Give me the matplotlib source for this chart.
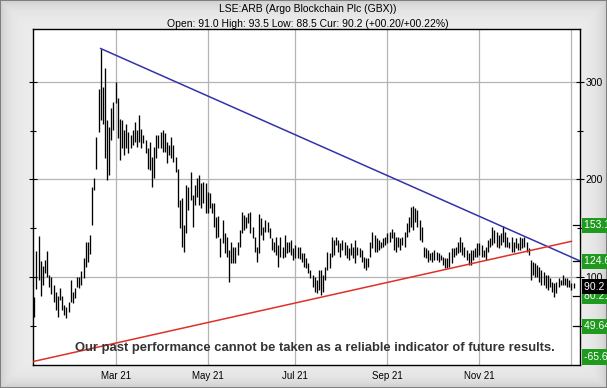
import numpy as np
import pandas as pd
import matplotlib
matplotlib.use("Agg")
import matplotlib.pyplot as plt
import matplotlib.transforms as mtransforms

plt.rcParams['font.family'] = ['Liberation Sans', 'DejaVu Sans']

# ---------------- data ----------------
title = "LSE:ARB (Argo Blockchain Plc (GBX))"
subtitle = "Open: 91.0 High: 93.5 Low: 88.5 Cur: 90.2 (+00.20/+00.22%)"
disclaimer = "Our past performance cannot be taken as a reliable indicator of future results."

start_date = "2021-01-06"
uk_holidays = ["2021-04-02", "2021-04-05", "2021-05-03", "2021-05-31",
               "2021-08-30", "2021-12-27", "2021-12-28", "2022-01-03"]

highs = [
    # Jan-Feb 2021
    79.7, 126.8, 141.9, 116.6, 111.2, 117, 127, 102, 99.6, 91.7, 85, 80, 88.6, 80, 71, 69.5,
    74.6, 96.8, 85, 88.6, 100, 99.6, 106.4, 119, 136, 136, 143, 192.4, 201, 243.6, 293, 334,
    295, 313.7, 260.8, 254, 272.7, 279.5,
    # Mar-Apr
    300, 283, 262, 260.6, 250.5, 257, 248.8, 245, 250.5, 259, 250.5, 265.9, 252, 245, 240,
    231.7, 238.5, 223, 233.4, 245, 245, 248.8, 250.5, 247, 238.5, 235, 243.6, 235, 223, 211,
    178.8, 180.5, 153, 194, 192.4, 207.8, 184, 194, 201, 204.4, 195.9, 197.5, 195.9,
    # May-Jun
    187.3, 185.6, 175.4, 175.4, 161.7, 162.4, 139.5, 158.3, 144.7, 141.2, 127.6, 136, 131,
    131, 136, 148, 166.8, 163.4, 161.7, 165.2, 166.8, 151.4, 141.2, 131, 164.4, 160, 151.4,
    158.3, 156.6, 149.8, 139.5, 136, 141.2, 132.7, 141.2, 131, 143, 136, 136, 137.8, 129.3,
    # Jul-Aug
    132.7, 131, 131, 124.8, 124.2, 119, 114.5, 107, 101.9, 100.2, 96.8, 107, 107, 101.9,
    110.4, 125.8, 124.2, 141.2, 137.8, 141.2, 137.8, 134.4, 137.8, 136, 132.7, 129.3, 134.4,
    131, 137.8, 131, 129.3, 127.6, 120.7, 119, 119, 136, 146.3, 143, 139.5, 137.8, 136,
    139.5, 141.2,
    # Sep-Oct
    144.7, 146.3, 148.8, 146.3, 141.2, 141.2, 139.5, 141.2, 146.3, 154.9, 161.7, 172, 172.6,
    170.3, 168.5, 158.3, 151.4, 131, 129.3, 127.6, 124.2, 125.8, 127.6, 125.8, 124.2, 122.4,
    120.7, 119, 119, 125.8, 129.3, 129.3, 131, 136, 141.2, 136, 131, 127.6, 124.2, 127.6,
    127.6, 129.3, 134.4,
    # Nov-Dec
    134.4, 132.7, 127.6, 131, 137.8, 139.5, 151.4, 148, 146.3, 143, 144.7, 152.2, 146.3,
    141.2, 136, 141.2, 136, 139.5, 134.4, 141.2, 139.5, 141.2, 136, 129.3, 117.3, 115.6, 114,
    112.2, 110.4, 107, 105.3, 101.9, 101.9, 98.6, 95, 93.4, 95, 98.6, 96.8, 101.9, 98.6,
    98.6, 96.8,
    # Jan 2022
    93.4, 93.5,
]

lows = [
    # Jan-Feb 2021
    58.6, 87.3, 96.8, 80.4, 91.7, 104, 99.6, 90, 83, 74.6, 66, 59, 76, 66, 61, 57.6,
    64, 74.6, 73, 78, 90, 88.6, 91.7, 98.5, 110.5, 115.6, 124, 153, 189, 211, 249, 260.8,
    257, 221.5, 199, 204, 240, 250.5,
    # Mar-Apr
    277.8, 242, 220, 231.7, 225, 231.7, 226.6, 231.7, 235, 238.5, 233.4, 238.5, 231.7, 236.9,
    226.6, 211, 209.5, 192.4, 201, 221.5, 231.7, 231.7, 228.4, 228.4, 216.4, 224.9, 221.5,
    218, 207.8, 172, 149.8, 131, 125.8, 144.7, 168.5, 178.8, 151.4, 173.7, 182, 173.7, 170.3,
    175.4, 165.2,
    # May-Jun
    165.2, 170.3, 165.2, 151.4, 139.5, 141.2, 120.7, 134.4, 124.2, 120.7, 95, 113.9, 114,
    114.5, 122.4, 131, 144.7, 148, 149.8, 155, 144.7, 139.5, 125.8, 115.6, 124.8, 143, 137.8,
    146.3, 146.3, 139.5, 127.6, 125.8, 122.4, 110.4, 120.7, 119, 120.7, 124.2, 125.8, 122.4,
    117.3,
    # Jul-Aug
    119, 119, 118, 115.6, 110.4, 108.8, 104.3, 98.6, 90, 84.8, 83.2, 86.6, 81.5, 84.8, 96.8,
    107, 108.8, 120.7, 122.4, 132.7, 125.8, 120.7, 127.6, 122.4, 119, 117.3, 122.4, 119, 114,
    122.4, 120.7, 115.6, 108.8, 107, 110.4, 120.7, 129.3, 125.8, 125.8, 127.6, 129.3, 131,
    132.7,
    # Sep-Oct
    134.4, 136, 139.5, 127.6, 125.8, 131, 127.6, 132.7, 131, 141.2, 146.3, 151.4, 148, 156.6,
    151.4, 137.8, 136, 120.7, 119, 115.6, 117.3, 115.6, 117.3, 117.3, 115.6, 117.3, 112.2,
    108.8, 108.8, 110.4, 114, 120.7, 122.4, 124.2, 125.8, 122.4, 120.7, 117.3, 112.2, 112.2,
    117.3, 120.7, 120.7,
    # Nov-Dec
    122.4, 120.7, 120.7, 117.3, 125.8, 131, 132.7, 134.4, 131, 129.3, 132.7, 136, 131, 131,
    129.3, 125.8, 125.8, 129.3, 127.6, 127.6, 129.3, 131, 125.8, 122.4, 96.8, 101.9, 100.2,
    100.2, 95, 91.7, 91.7, 88.3, 86.6, 90, 84.8, 79.7, 83.2, 90, 91.7, 91.7, 91.7, 90, 90,
    # Jan 2022
    86.6, 88.5,
]

# trend lines
blue_end_value = 116.4      # falling resistance line, value at right edge
red_start_value = 13.2      # rising support line, value at left edge
red_end_value = 136.5
red_end_date = "2022-01-04"

# right-hand level markers
level_labels = ["153.1", "124.6", "80.21", "49.64", "-65.6"]
level_y = [153.1, 116.0, 80.21, 49.64, 18.0]
current_label = "90.2"
current_value = 90.2

y_major = [100, 200, 300]
y_minor = [50, 150, 250]
y_limits = (9.8, 353.7)

# ---------------- figure ----------------
W, H = 607, 388
fig = plt.figure(figsize=(W / 100, H / 100), dpi=100)

# bevelled gray background
bg = fig.add_axes([0, 0, 1, 1], zorder=-10)
yy, xx = np.mgrid[0:H, 0:W]
d = np.minimum.reduce([xx, W - 1 - xx, yy, H - 1 - yy]).astype(float)
g = 0.93 - 0.12 * np.exp(-d / 9.0)
g[d < 1] = 0.5
bg.imshow(np.dstack([g, g, g]), extent=[0, 1, 0, 1], aspect='auto', interpolation='bilinear')
bg.set_axis_off()

ax = fig.add_axes([32.5 / W, 1 - 365 / H, (580 - 32.5) / W, (365 - 29.3) / H])
ax.set_facecolor('white')

n = len(highs)
dates = pd.bdate_range(start_date, periods=n, freq='C', holidays=uk_holidays)
x = np.arange(n)

ax.vlines(x, lows, highs, color='black', lw=0.95, zorder=3)

ax.set_xlim(-0.85, n + 2)
ax.set_ylim(*y_limits)

# month ticks (every other month)
tick_pos, tick_lab = [], []
for i in range(1, n):
    if dates[i].month != dates[i - 1].month and dates[i].month % 2 == 1:
        tick_pos.append(i)
        tick_lab.append(dates[i].strftime('%b %y') if dates[i].month != 1 else '')
ax.set_xticks(tick_pos)
ax.set_xticklabels(tick_lab, fontsize=7)
ax.tick_params(axis='x', length=0, pad=4)

ax.set_yticks(y_major)
ax.set_yticks(y_minor, minor=True)
ax.set_yticklabels([str(v) for v in y_major], fontsize=7.5)
ax.tick_params(axis='y', which='both', left=True, right=True, labelleft=False,
               labelright=True, direction='inout', width=0.8, pad=1)
ax.tick_params(axis='y', which='major', length=6)
ax.tick_params(axis='y', which='minor', length=4)

ax.grid(True, which='major', color='#b4b4b4', lw=0.9, zorder=0)
ax.set_axisbelow(True)
for s in ax.spines.values():
    s.set_color('black')
    s.set_linewidth(1.0)

# trend lines
peak = int(np.argmax(highs))
x_right = ax.get_xlim()[1]
ax.plot([peak, x_right], [highs[peak], blue_end_value], color='#3333aa', lw=1.1, zorder=4)
x_left = ax.get_xlim()[0]
red_end_idx = int(np.searchsorted(dates, pd.Timestamp(red_end_date)))
ax.plot([x_left, red_end_idx], [red_start_value, red_end_value], color='#e0302a', lw=1.1, zorder=4)

# right level boxes
blend = mtransforms.blended_transform_factory(ax.transAxes, ax.transData)
for lab, yv in zip(level_labels, level_y):
    ax.annotate(lab + " ", xy=(1.0, yv), xycoords=blend, xytext=(3.2, 0),
                textcoords='offset points', ha='left', va='center', color='white',
                fontsize=7.5, annotation_clip=False, zorder=6,
                bbox=dict(boxstyle='square,pad=0.25', fc='#1f9a1f', ec='none'))
    if lab != "-65.6":
        ax.plot([0.988, 1.0], [yv, yv], transform=blend, color='black', lw=0.9,
                clip_on=False, zorder=5)
ax.annotate(current_label + "  ", xy=(1.0, current_value), xycoords=blend, xytext=(3.2, 0),
            textcoords='offset points', ha='left', va='center', color='white',
            fontsize=7.5, annotation_clip=False, zorder=7,
            bbox=dict(boxstyle='square,pad=0.2', fc='black', ec='none'))

# header texts
fig.text(307.5 / W, 1 - 9.5 / H, title, ha='center', va='center', fontsize=7.5, color='black')
fig.text(307.5 / W, 1 - 24 / H, subtitle, ha='center', va='center', fontsize=7.5, color='black')

# disclaimer
fig.text(314.6 / W, 1 - 348 / H, disclaimer, ha='center', va='center', fontsize=9.4,
         fontweight='bold', color='#333333',
         family=['Liberation Sans Narrow', 'Liberation Sans'])

fig.savefig('out.png', dpi=100)
